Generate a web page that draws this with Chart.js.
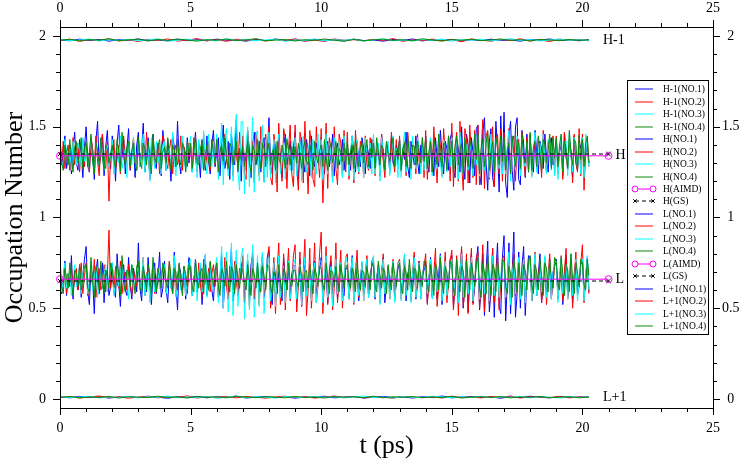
<!DOCTYPE html>
<html>
<head>
<meta charset="utf-8">
<script src="https://cdn.jsdelivr.net/npm/chart.js@4.4.0/dist/chart.umd.min.js"></script>
<style>
  html, body { margin: 0; padding: 0; background: #fff; }
</style>
</head>
<body>
<canvas id="occChart" width="746" height="463"></canvas>
<script>
// sampling of the trajectories (ps)
const dtFine = 0.0625;  // H and L orbitals
const dtCoarse = 0.375; // H-1 and L+1 orbitals

// ---- H-1 (values near 2) ----
const H1_NO1 = [
  1.979,1.974,1.983,1.976,1.981,1.972,1.980,1.977,1.984,1.975,1.979,
  1.973,1.982,1.976,1.980,1.974,1.983,1.977,1.978,1.972,1.981,1.975,
  1.984,1.976,1.979,1.973,1.982,1.977,1.980,1.974,1.983,1.975,1.978,
  1.972,1.981,1.976,1.984,1.974,1.979,1.977,1.982,1.973,1.980,1.975,
  1.983,1.976,1.978,1.972,1.981,1.977,1.984,1.975,1.979,1.974,1.980];
const H1_NO2 = [
  1.976,1.983,1.971,1.980,1.975,1.985,1.973,1.979,1.970,1.982,1.977,
  1.984,1.972,1.978,1.986,1.974,1.980,1.971,1.983,1.976,1.979,1.973,
  1.981,1.975,1.985,1.972,1.978,1.970,1.984,1.977,1.980,1.973,1.982,
  1.976,1.986,1.971,1.979,1.974,1.983,1.975,1.980,1.969,1.984,1.977,
  1.972,1.981,1.976,1.985,1.973,1.979,1.970,1.983,1.975,1.980,1.974];
const H1_NO3 = [
  1.981,1.975,1.978,1.984,1.973,1.980,1.976,1.982,1.974,1.979,1.985,
  1.972,1.977,1.983,1.975,1.980,1.973,1.986,1.976,1.981,1.974,1.978,
  1.983,1.971,1.979,1.976,1.984,1.974,1.980,1.977,1.982,1.972,1.979,
  1.985,1.975,1.978,1.973,1.981,1.976,1.984,1.972,1.980,1.977,1.983,
  1.974,1.979,1.986,1.975,1.981,1.973,1.978,1.984,1.976,1.980,1.975];
const H1_NO4 = [
  1.977,1.982,1.974,1.980,1.978,1.985,1.975,1.979,1.983,1.973,1.981,
  1.976,1.984,1.978,1.972,1.980,1.977,1.983,1.975,1.979,1.986,1.974,
  1.978,1.981,1.973,1.980,1.976,1.984,1.977,1.971,1.982,1.975,1.979,
  1.983,1.976,1.980,1.974,1.985,1.978,1.972,1.981,1.977,1.983,1.975,
  1.979,1.984,1.976,1.980,1.973,1.982,1.978,1.975,1.981,1.977,1.979];

// ---- H (HOMO), one row per ps ----
const H_NO1 = [
  1.41,1.29,1.36,1.45,1.27,1.33,1.40,1.24,1.38,1.47,1.30,1.26,1.43,1.35,1.22,1.39,
  1.50,1.31,1.25,1.44,1.37,1.21,1.42,1.53,1.28,1.34,1.46,1.23,1.39,1.48,1.30,1.27,
  1.45,1.36,1.20,1.41,1.51,1.29,1.33,1.43,1.24,1.38,1.49,1.26,1.35,1.42,1.22,1.40,
  1.47,1.28,1.37,1.52,1.25,1.32,1.44,1.21,1.39,1.46,1.30,1.27,1.41,1.36,1.23,1.48,
  1.38,1.26,1.43,1.33,1.20,1.45,1.39,1.28,1.53,1.31,1.24,1.42,1.36,1.27,1.44,1.30,
  1.40,1.25,1.37,1.47,1.29,1.34,1.22,1.43,1.38,1.26,1.45,1.31,1.24,1.41,1.48,1.28,
  1.36,1.44,1.23,1.39,1.51,1.27,1.33,1.42,1.21,1.46,1.35,1.29,1.54,1.25,1.38,1.20,
  1.43,1.31,1.26,1.45,1.37,1.22,1.40,1.47,1.29,1.34,1.42,1.25,1.39,1.44,1.28,1.33,
  1.55,1.30,1.24,1.41,1.36,1.27,1.44,1.32,1.22,1.39,1.46,1.29,1.35,1.42,1.26,1.38,
  1.47,1.28,1.21,1.40,1.44,1.31,1.25,1.43,1.37,1.23,1.45,1.33,1.28,1.41,1.36,1.27,
  1.44,1.30,1.24,1.39,1.42,1.28,1.35,1.46,1.23,1.38,1.41,1.29,1.33,1.43,1.26,1.37,
  1.40,1.32,1.26,1.45,1.36,1.25,1.42,1.31,1.28,1.44,1.38,1.24,1.40,1.35,1.27,1.43,
  1.42,1.29,1.35,1.39,1.23,1.46,1.33,1.27,1.41,1.37,1.25,1.44,1.30,1.28,1.40,1.36,
  1.43,1.26,1.38,1.32,1.47,1.28,1.22,1.42,1.36,1.29,1.45,1.31,1.24,1.40,1.37,1.27,
  1.45,1.30,1.25,1.41,1.36,1.23,1.44,1.33,1.28,1.48,1.35,1.24,1.42,1.38,1.26,1.43,
  1.47,1.27,1.22,1.43,1.38,1.25,1.50,1.31,1.21,1.46,1.40,1.19,1.44,1.36,1.23,1.49,
  1.51,1.24,1.18,1.47,1.55,1.30,1.15,1.42,1.49,1.22,1.17,1.53,1.38,1.14,1.56,1.27,
  1.58,1.19,1.11,1.45,1.53,1.26,1.15,1.50,1.55,1.21,1.18,1.48,1.41,1.22,1.46,1.25,
  1.45,1.31,1.25,1.48,1.36,1.24,1.42,1.38,1.27,1.46,1.33,1.25,1.41,1.44,1.29,1.35,
  1.43,1.28,1.36,1.40,1.23,1.47,1.34,1.28,1.41,1.37,1.22,1.45,1.31,1.26,1.42,1.38,
  1.44,1.27,1.35,1.39,1.30];
const H_NO2 = [
  1.38,1.30,1.42,1.27,1.35,1.40,1.26,1.33,1.44,1.29,1.37,1.41,1.25,1.36,1.43,1.28,
  1.41,1.33,1.25,1.44,1.38,1.28,1.45,1.31,1.23,1.39,1.46,1.30,1.27,1.42,1.09,1.35,
  1.37,1.43,1.26,1.32,1.40,1.24,1.38,1.45,1.29,1.34,1.41,1.27,1.36,1.44,1.30,1.26,
  1.44,1.29,1.35,1.41,1.26,1.47,1.33,1.25,1.39,1.43,1.28,1.36,1.40,1.24,1.38,1.45,
  1.42,1.31,1.27,1.38,1.43,1.24,1.36,1.40,1.29,1.33,1.45,1.26,1.39,1.35,1.28,1.41,
  1.39,1.27,1.44,1.33,1.25,1.41,1.37,1.30,1.46,1.28,1.34,1.42,1.26,1.38,1.43,1.29,
  1.43,1.25,1.36,1.40,1.29,1.46,1.32,1.26,1.41,1.38,1.23,1.44,1.35,1.28,1.47,1.31,
  1.45,1.24,1.21,1.48,1.37,1.26,1.42,1.19,1.47,1.33,1.23,1.50,1.38,1.20,1.46,1.29,
  1.50,1.22,1.18,1.46,1.39,1.14,1.52,1.31,1.20,1.49,1.44,1.16,1.38,1.51,1.24,1.17,
  1.51,1.27,1.15,1.47,1.42,1.19,1.53,1.33,1.13,1.48,1.40,1.21,1.17,1.50,1.36,1.22,
  1.49,1.08,1.30,1.52,1.16,1.44,1.38,1.20,1.50,1.27,1.18,1.46,1.41,1.23,1.48,1.25,
  1.47,1.21,1.36,1.43,1.19,1.48,1.32,1.24,1.42,1.38,1.22,1.45,1.30,1.26,1.44,1.35,
  1.44,1.23,1.38,1.40,1.26,1.46,1.31,1.22,1.41,1.36,1.27,1.47,1.33,1.25,1.43,1.29,
  1.45,1.25,1.37,1.42,1.23,1.47,1.34,1.26,1.40,1.39,1.24,1.46,1.31,1.28,1.44,1.22,
  1.48,1.21,1.35,1.44,1.25,1.50,1.32,1.19,1.46,1.40,1.23,1.49,1.36,1.27,1.45,1.20,
  1.52,1.17,1.39,1.47,1.20,1.53,1.30,1.15,1.49,1.43,1.19,1.51,1.34,1.22,1.48,1.18,
  1.51,1.18,1.37,1.54,1.16,1.45,1.48,1.21,1.33,1.50,1.17,1.42,1.46,1.24,1.49,1.20,
  1.47,1.22,1.36,1.49,1.24,1.41,1.45,1.20,1.38,1.43,1.26,1.47,1.32,1.23,1.44,1.27,
  1.46,1.23,1.35,1.41,1.27,1.44,1.38,1.22,1.48,1.33,1.25,1.42,1.39,1.28,1.45,1.24,
  1.45,1.24,1.37,1.42,1.21,1.47,1.33,1.26,1.43,1.36,1.19,1.46,1.30,1.25,1.49,1.23,
  1.46,1.15,1.36,1.44,1.28];
const H_NO3 = [
  1.40,1.31,1.27,1.43,1.36,1.30,1.38,1.26,1.42,1.34,1.29,1.41,1.37,1.28,1.44,1.31,
  1.39,1.27,1.35,1.44,1.30,1.25,1.41,1.36,1.29,1.43,1.33,1.26,1.37,1.40,1.28,1.34,
  1.43,1.24,1.36,1.40,1.30,1.45,1.27,1.33,1.38,1.22,1.41,1.35,1.29,1.44,1.31,1.26,
  1.41,1.28,1.37,1.46,1.25,1.33,1.39,1.20,1.44,1.36,1.27,1.42,1.30,1.38,1.24,1.40,
  1.42,1.26,1.35,1.38,1.29,1.47,1.31,1.23,1.40,1.36,1.28,1.45,1.33,1.26,1.41,1.37,
  1.45,1.25,1.34,1.41,1.22,1.43,1.37,1.27,1.48,1.32,1.24,1.46,1.35,1.28,1.42,1.30,
  1.46,1.21,1.38,1.52,1.18,1.43,1.49,1.23,1.35,1.50,1.20,1.44,1.57,1.25,1.15,1.53,
  1.53,1.13,1.41,1.50,1.17,1.36,1.55,1.14,1.45,1.48,1.20,1.38,1.51,1.19,1.43,1.22,
  1.47,1.22,1.35,1.43,1.19,1.40,1.46,1.24,1.31,1.41,1.21,1.44,1.36,1.26,1.42,1.23,
  1.44,1.23,1.38,1.42,1.20,1.45,1.33,1.25,1.40,1.37,1.22,1.43,1.35,1.24,1.46,1.27,
  1.43,1.21,1.36,1.46,1.24,1.41,1.34,1.19,1.44,1.38,1.26,1.42,1.31,1.22,1.45,1.29,
  1.42,1.23,1.37,1.45,1.21,1.40,1.43,1.25,1.33,1.39,1.22,1.44,1.36,1.27,1.41,1.24,
  1.46,1.24,1.35,1.41,1.20,1.44,1.37,1.26,1.39,1.42,1.23,1.34,1.45,1.28,1.38,1.22,
  1.43,1.22,1.38,1.47,1.25,1.36,1.42,1.21,1.45,1.33,1.27,1.44,1.39,1.24,1.41,1.26,
  1.40,1.26,1.35,1.44,1.23,1.42,1.37,1.27,1.46,1.31,1.22,1.43,1.38,1.25,1.45,1.28,
  1.44,1.25,1.37,1.42,1.21,1.47,1.34,1.24,1.43,1.39,1.26,1.41,1.36,1.23,1.45,1.29,
  1.45,1.23,1.36,1.41,1.26,1.44,1.38,1.22,1.46,1.33,1.25,1.42,1.40,1.27,1.43,1.24,
  1.42,1.24,1.39,1.48,1.20,1.43,1.35,1.26,1.45,1.37,1.23,1.44,1.31,1.28,1.41,1.25,
  1.44,1.22,1.38,1.47,1.25,1.36,1.41,1.27,1.46,1.33,1.24,1.43,1.39,1.26,1.42,1.23,
  1.43,1.21,1.37,1.45,1.26,1.40,1.42,1.23,1.47,1.34,1.25,1.44,1.38,1.27,1.41,1.24,
  1.44,1.22,1.46,1.35,1.28];
const H_NO4 = [
  1.45,1.30,1.26,1.40,1.36,1.29,1.43,1.33,1.25,1.39,1.42,1.30,1.35,1.44,1.27,1.38,
  1.42,1.28,1.36,1.46,1.31,1.24,1.41,1.37,1.29,1.44,1.33,1.26,1.40,1.38,1.30,1.35,
  1.40,1.32,1.27,1.43,1.36,1.25,1.47,1.34,1.29,1.39,1.42,1.28,1.37,1.41,1.30,1.26,
  1.44,1.31,1.27,1.41,1.38,1.29,1.42,1.35,1.24,1.46,1.33,1.30,1.39,1.43,1.27,1.36,
  1.39,1.30,1.44,1.34,1.26,1.40,1.37,1.28,1.43,1.32,1.29,1.41,1.38,1.25,1.42,1.35,
  1.41,1.27,1.36,1.45,1.30,1.29,1.38,1.42,1.26,1.34,1.40,1.31,1.28,1.43,1.36,1.30,
  1.43,1.25,1.37,1.40,1.31,1.44,1.33,1.27,1.41,1.39,1.29,1.36,1.42,1.26,1.38,1.32,
  1.39,1.28,1.35,1.42,1.30,1.25,1.40,1.37,1.29,1.43,1.34,1.27,1.41,1.38,1.31,1.36,
  1.41,1.29,1.36,1.38,1.26,1.42,1.33,1.30,1.40,1.35,1.27,1.43,1.37,1.29,1.39,1.32,
  1.39,1.30,1.41,1.35,1.27,1.38,1.42,1.31,1.29,1.40,1.36,1.26,1.42,1.34,1.30,1.37,
  1.40,1.28,1.43,1.33,1.26,1.39,1.41,1.30,1.35,1.42,1.27,1.38,1.36,1.31,1.41,1.29,
  1.42,1.29,1.37,1.40,1.27,1.43,1.34,1.28,1.39,1.41,1.30,1.36,1.43,1.28,1.38,1.33,
  1.41,1.27,1.44,1.36,1.29,1.40,1.38,1.26,1.42,1.35,1.31,1.39,1.44,1.28,1.37,1.32,
  1.43,1.26,1.38,1.41,1.28,1.45,1.34,1.27,1.40,1.39,1.29,1.42,1.36,1.30,1.44,1.31,
  1.44,1.27,1.36,1.42,1.25,1.43,1.38,1.29,1.46,1.33,1.28,1.41,1.40,1.26,1.45,1.34,
  1.42,1.25,1.39,1.45,1.29,1.37,1.41,1.24,1.44,1.35,1.28,1.43,1.38,1.27,1.46,1.32,
  1.46,1.24,1.38,1.43,1.28,1.41,1.47,1.26,1.36,1.42,1.25,1.44,1.39,1.29,1.45,1.31,
  1.44,1.26,1.37,1.41,1.24,1.45,1.35,1.28,1.43,1.40,1.27,1.46,1.33,1.30,1.42,1.25,
  1.47,1.26,1.39,1.42,1.28,1.45,1.36,1.25,1.43,1.41,1.30,1.37,1.46,1.27,1.44,1.33,
  1.44,1.28,1.40,1.46,1.25,1.42,1.38,1.27,1.48,1.35,1.29,1.43,1.41,1.26,1.45,1.32,
  1.43,1.28,1.41,1.45,1.30];

// ---- L (LUMO), one row per ps ----
const L_NO1 = [
  0.72,0.58,0.65,0.76,0.57,0.69,0.62,0.79,0.55,0.71,0.64,0.60,0.74,0.56,0.68,0.77,
  0.84,0.59,0.52,0.73,0.66,0.47,0.70,0.77,0.58,0.63,0.75,0.53,0.69,0.71,0.57,0.62,
  0.75,0.60,0.56,0.80,0.64,0.51,0.69,0.74,0.60,0.57,0.78,0.63,0.55,0.72,0.67,0.59,
  0.86,0.61,0.54,0.72,0.68,0.59,0.78,0.63,0.52,0.70,0.75,0.58,0.66,0.81,0.56,0.61,
  0.76,0.60,0.53,0.71,0.65,0.58,0.81,0.62,0.49,0.74,0.69,0.60,0.73,0.55,0.67,0.78,
  0.70,0.57,0.64,0.77,0.59,0.68,0.73,0.52,0.66,0.79,0.57,0.62,0.75,0.60,0.54,0.71,
  0.74,0.56,0.67,0.80,0.50,0.65,0.72,0.58,0.69,0.83,0.54,0.61,0.76,0.57,0.64,0.73,
  0.77,0.53,0.66,0.71,0.57,0.74,0.79,0.55,0.63,0.73,0.59,0.68,0.75,0.56,0.62,0.78,
  0.82,0.57,0.52,0.75,0.68,0.58,0.70,0.63,0.54,0.78,0.66,0.60,0.73,0.57,0.69,0.74,
  0.73,0.55,0.64,0.77,0.51,0.68,0.74,0.59,0.62,0.72,0.56,0.70,0.76,0.58,0.65,0.71,
  0.78,0.57,0.63,0.71,0.53,0.69,0.76,0.58,0.65,0.73,0.55,0.67,0.74,0.60,0.57,0.72,
  0.72,0.56,0.68,0.79,0.59,0.64,0.70,0.54,0.66,0.75,0.58,0.62,0.77,0.56,0.69,0.73,
  0.76,0.55,0.67,0.73,0.57,0.70,0.78,0.53,0.64,0.71,0.59,0.68,0.75,0.57,0.63,0.72,
  0.74,0.58,0.65,0.77,0.54,0.69,0.72,0.56,0.66,0.79,0.55,0.63,0.76,0.59,0.68,0.71,
  0.75,0.53,0.66,0.78,0.57,0.64,0.73,0.55,0.69,0.80,0.52,0.67,0.74,0.58,0.63,0.77,
  0.79,0.51,0.65,0.74,0.55,0.70,0.82,0.50,0.64,0.77,0.48,0.68,0.80,0.53,0.61,0.76,
  0.84,0.49,0.62,0.80,0.46,0.71,0.87,0.48,0.59,0.83,0.45,0.69,0.86,0.51,0.47,0.78,
  0.90,0.43,0.64,0.86,0.47,0.70,0.92,0.45,0.58,0.81,0.50,0.73,0.84,0.46,0.66,0.79,
  0.78,0.54,0.63,0.76,0.57,0.69,0.80,0.53,0.66,0.74,0.58,0.62,0.77,0.55,0.70,0.73,
  0.77,0.55,0.67,0.73,0.52,0.68,0.79,0.57,0.64,0.75,0.53,0.69,0.76,0.58,0.62,0.74,
  0.76,0.56,0.67,0.78,0.59];
const L_NO2 = [
  0.71,0.61,0.66,0.74,0.58,0.69,0.63,0.73,0.59,0.67,0.72,0.60,0.65,0.75,0.58,0.68,
  0.75,0.57,0.64,0.70,0.62,0.77,0.56,0.66,0.72,0.60,0.63,0.74,0.59,0.68,0.93,0.61,
  0.68,0.59,0.73,0.64,0.61,0.76,0.58,0.67,0.70,0.60,0.74,0.63,0.57,0.71,0.66,0.62,
  0.74,0.60,0.65,0.78,0.57,0.69,0.71,0.62,0.67,0.75,0.58,0.64,0.72,0.61,0.68,0.73,
  0.72,0.59,0.66,0.76,0.61,0.64,0.70,0.57,0.68,0.74,0.62,0.60,0.73,0.65,0.58,0.71,
  0.73,0.58,0.67,0.70,0.60,0.75,0.63,0.56,0.77,0.66,0.61,0.72,0.59,0.69,0.74,0.62,
  0.75,0.57,0.65,0.71,0.59,0.78,0.62,0.55,0.73,0.68,0.60,0.76,0.64,0.58,0.72,0.66,
  0.79,0.54,0.63,0.76,0.51,0.70,0.81,0.56,0.64,0.74,0.52,0.69,0.80,0.58,0.61,0.77,
  0.84,0.50,0.62,0.78,0.47,0.71,0.86,0.52,0.59,0.80,0.49,0.68,0.83,0.54,0.64,0.79,
  0.85,0.48,0.63,0.81,0.51,0.70,0.88,0.46,0.60,0.83,0.50,0.67,0.86,0.53,0.62,0.80,
  0.92,0.47,0.65,0.84,0.52,0.71,0.79,0.49,0.61,0.86,0.53,0.68,0.82,0.50,0.66,0.78,
  0.80,0.55,0.64,0.77,0.52,0.70,0.82,0.56,0.61,0.75,0.54,0.69,0.79,0.57,0.63,0.76,
  0.78,0.57,0.66,0.74,0.53,0.69,0.80,0.58,0.62,0.73,0.55,0.68,0.77,0.54,0.65,0.75,
  0.77,0.55,0.67,0.79,0.58,0.63,0.74,0.54,0.70,0.81,0.57,0.64,0.76,0.55,0.69,0.73,
  0.80,0.52,0.65,0.77,0.56,0.69,0.83,0.51,0.62,0.78,0.55,0.67,0.81,0.53,0.64,0.76,
  0.82,0.49,0.63,0.79,0.46,0.70,0.84,0.51,0.60,0.80,0.47,0.68,0.83,0.52,0.65,0.78,
  0.81,0.50,0.66,0.85,0.48,0.69,0.78,0.52,0.62,0.83,0.53,0.67,0.80,0.49,0.64,0.77,
  0.79,0.55,0.64,0.76,0.53,0.70,0.80,0.57,0.61,0.74,0.56,0.68,0.78,0.54,0.66,0.75,
  0.77,0.54,0.65,0.81,0.57,0.68,0.75,0.53,0.63,0.78,0.52,0.69,0.80,0.56,0.62,0.74,
  0.76,0.56,0.66,0.79,0.54,0.70,0.83,0.55,0.63,0.77,0.50,0.67,0.81,0.57,0.64,0.75,
  0.85,0.53,0.68,0.76,0.58];
const L_NO3 = [
  0.72,0.59,0.66,0.75,0.61,0.68,0.70,0.57,0.64,0.74,0.62,0.67,0.71,0.58,0.69,0.73,
  0.71,0.58,0.65,0.76,0.60,0.67,0.73,0.56,0.63,0.70,0.61,0.68,0.74,0.59,0.66,0.72,
  0.75,0.57,0.64,0.72,0.62,0.69,0.77,0.59,0.63,0.71,0.55,0.67,0.74,0.60,0.65,0.70,
  0.73,0.60,0.66,0.78,0.57,0.68,0.70,0.53,0.65,0.76,0.59,0.62,0.72,0.61,0.69,0.74,
  0.74,0.58,0.65,0.71,0.61,0.67,0.79,0.56,0.63,0.73,0.60,0.68,0.72,0.57,0.66,0.75,
  0.77,0.57,0.64,0.73,0.54,0.69,0.75,0.59,0.62,0.80,0.56,0.67,0.74,0.60,0.65,0.71,
  0.78,0.53,0.66,0.84,0.50,0.70,0.81,0.48,0.63,0.86,0.46,0.69,0.82,0.51,0.64,0.79,
  0.83,0.44,0.68,0.80,0.49,0.65,0.85,0.45,0.62,0.79,0.51,0.70,0.81,0.47,0.66,0.77,
  0.78,0.54,0.65,0.75,0.51,0.69,0.79,0.56,0.62,0.73,0.53,0.67,0.76,0.55,0.64,0.74,
  0.77,0.55,0.66,0.74,0.52,0.68,0.78,0.57,0.63,0.72,0.54,0.70,0.75,0.53,0.65,0.76,
  0.76,0.53,0.67,0.79,0.56,0.64,0.73,0.51,0.69,0.77,0.58,0.62,0.75,0.54,0.66,0.78,
  0.75,0.55,0.68,0.78,0.53,0.65,0.72,0.57,0.63,0.76,0.54,0.69,0.77,0.56,0.64,0.74,
  0.79,0.56,0.66,0.73,0.52,0.70,0.77,0.58,0.62,0.71,0.55,0.68,0.76,0.53,0.65,0.75,
  0.76,0.54,0.67,0.80,0.57,0.64,0.74,0.53,0.69,0.78,0.56,0.63,0.75,0.55,0.68,0.73,
  0.72,0.58,0.66,0.77,0.55,0.69,0.73,0.59,0.63,0.79,0.54,0.67,0.76,0.57,0.65,0.74,
  0.77,0.57,0.65,0.75,0.53,0.70,0.80,0.56,0.62,0.76,0.58,0.68,0.78,0.54,0.66,0.73,
  0.78,0.55,0.67,0.74,0.58,0.64,0.77,0.54,0.69,0.79,0.57,0.63,0.75,0.56,0.68,0.76,
  0.75,0.56,0.66,0.81,0.52,0.69,0.76,0.58,0.64,0.78,0.55,0.67,0.77,0.53,0.65,0.74,
  0.77,0.54,0.68,0.80,0.57,0.63,0.73,0.59,0.66,0.79,0.56,0.64,0.76,0.55,0.69,0.75,
  0.76,0.53,0.67,0.78,0.58,0.65,0.74,0.55,0.69,0.80,0.57,0.62,0.77,0.54,0.66,0.75,
  0.77,0.54,0.68,0.79,0.60];
const L_NO4 = [
  0.77,0.62,0.58,0.72,0.67,0.61,0.75,0.64,0.57,0.71,0.69,0.62,0.74,0.60,0.66,0.73,
  0.74,0.61,0.59,0.78,0.65,0.56,0.73,0.69,0.60,0.76,0.63,0.58,0.71,0.67,0.61,0.75,
  0.72,0.63,0.61,0.75,0.68,0.57,0.79,0.64,0.59,0.71,0.70,0.62,0.74,0.66,0.58,0.73,
  0.76,0.62,0.58,0.73,0.66,0.60,0.74,0.69,0.56,0.78,0.65,0.59,0.72,0.68,0.61,0.75,
  0.71,0.64,0.61,0.76,0.67,0.58,0.72,0.70,0.60,0.75,0.63,0.57,0.73,0.69,0.62,0.74,
  0.73,0.61,0.59,0.77,0.66,0.61,0.70,0.72,0.58,0.74,0.65,0.60,0.76,0.68,0.62,0.71,
  0.75,0.63,0.57,0.72,0.69,0.62,0.76,0.65,0.59,0.73,0.70,0.58,0.74,0.67,0.61,0.72,
  0.71,0.64,0.60,0.74,0.66,0.57,0.72,0.69,0.61,0.75,0.63,0.59,0.73,0.68,0.60,0.74,
  0.73,0.62,0.58,0.70,0.67,0.61,0.74,0.65,0.59,0.72,0.69,0.60,0.75,0.64,0.62,0.71,
  0.71,0.65,0.62,0.73,0.68,0.59,0.70,0.71,0.61,0.74,0.66,0.58,0.72,0.69,0.62,0.73,
  0.72,0.63,0.60,0.75,0.67,0.58,0.71,0.70,0.62,0.73,0.65,0.59,0.74,0.68,0.61,0.72,
  0.74,0.64,0.61,0.72,0.69,0.59,0.75,0.66,0.60,0.71,0.70,0.62,0.73,0.67,0.60,0.75,
  0.73,0.62,0.59,0.76,0.68,0.61,0.72,0.70,0.58,0.74,0.66,0.60,0.75,0.69,0.62,0.73,
  0.75,0.61,0.58,0.73,0.70,0.60,0.77,0.66,0.59,0.72,0.71,0.61,0.74,0.68,0.62,0.76,
  0.76,0.62,0.59,0.74,0.67,0.57,0.75,0.71,0.60,0.78,0.65,0.58,0.73,0.70,0.61,0.76,
  0.74,0.60,0.57,0.77,0.68,0.59,0.73,0.71,0.56,0.76,0.66,0.60,0.75,0.69,0.62,0.74,
  0.78,0.61,0.56,0.75,0.70,0.58,0.79,0.67,0.57,0.74,0.72,0.59,0.76,0.68,0.61,0.77,
  0.76,0.62,0.58,0.73,0.69,0.56,0.77,0.70,0.59,0.75,0.66,0.57,0.74,0.71,0.60,0.76,
  0.79,0.63,0.58,0.74,0.70,0.60,0.77,0.68,0.57,0.75,0.72,0.59,0.76,0.67,0.61,0.78,
  0.76,0.64,0.60,0.78,0.69,0.57,0.74,0.71,0.59,0.80,0.66,0.58,0.75,0.70,0.62,0.77,
  0.75,0.63,0.60,0.77,0.68];

// ---- L+1 (values near 0) ----
const L1_NO1 = [
  0.011,0.006,0.014,0.008,0.012,0.005,0.010,0.013,0.007,0.015,0.009,
  0.004,0.012,0.008,0.014,0.006,0.011,0.009,0.016,0.005,0.010,0.013,
  0.007,0.012,0.004,0.011,0.008,0.015,0.006,0.010,0.013,0.005,0.009,
  0.014,0.007,0.011,0.005,0.012,0.009,0.016,0.006,0.010,0.013,0.008,
  0.011,0.004,0.012,0.007,0.015,0.009,0.006,0.013,0.008,0.011,0.010];
const L1_NO2 = [
  0.008,0.013,0.005,0.011,0.016,0.007,0.012,0.004,0.010,0.014,0.006,
  0.012,0.009,0.017,0.005,0.011,0.008,0.014,0.006,0.013,0.010,0.004,
  0.011,0.015,0.007,0.012,0.005,0.010,0.016,0.008,0.013,0.006,0.011,
  0.009,0.004,0.014,0.010,0.007,0.012,0.005,0.015,0.009,0.011,0.006,
  0.013,0.008,0.016,0.005,0.012,0.010,0.007,0.014,0.006,0.011,0.009];
const L1_NO3 = [
  0.012,0.007,0.010,0.015,0.005,0.011,0.008,0.014,0.006,0.012,0.009,
  0.016,0.006,0.011,0.008,0.013,0.004,0.010,0.015,0.007,0.012,0.009,
  0.005,0.013,0.010,0.007,0.014,0.009,0.012,0.006,0.011,0.016,0.008,
  0.010,0.005,0.013,0.009,0.007,0.015,0.011,0.006,0.012,0.008,0.014,
  0.007,0.011,0.009,0.014,0.006,0.012,0.010,0.005,0.013,0.008,0.011];
const L1_NO4 = [
  0.009,0.013,0.006,0.011,0.008,0.014,0.005,0.012,0.010,0.007,0.015,
  0.008,0.011,0.005,0.013,0.009,0.012,0.006,0.014,0.010,0.007,0.012,
  0.010,0.006,0.014,0.008,0.011,0.005,0.013,0.009,0.012,0.007,0.015,
  0.006,0.012,0.009,0.013,0.007,0.011,0.008,0.014,0.005,0.010,0.012,
  0.008,0.013,0.006,0.011,0.009,0.014,0.007,0.010,0.012,0.006,0.011];

// ---- reference levels (AIMD average and ground state) ----
const refTime = [0, 21];
const H_AIMD = [1.34, 1.34];
const H_GS = [1.35, 1.35];
const L_AIMD = [0.66, 0.66];
const L_GS = [0.65, 0.65];

// axis ticks and level names
const xTicks = [0, 5, 10, 15, 20, 25];
const yTicks = [0, 0.5, 1, 1.5, 2];
const levelNames = ['H-1', 'H', 'L', 'L+1'];

const serif = '"Liberation Serif", "Times New Roman", serif';
const runColors = ['#0000ff', '#ff0000', '#00ffff', '#0a8a0a'];

function pts(values, dt) {
  return values.map((v, i) => ({ x: i * dt, y: v }));
}
function run(label, values, dt, n) {
  return {
    label: label,
    data: pts(values, dt),
    borderColor: runColors[n],
    borderWidth: 1,
    pointRadius: 0,
    tension: 0,
    fill: false
  };
}
function ref(label, values, kind) {
  const aimd = kind === 'AIMD';
  return {
    label: label,
    data: refTime.map((t, i) => ({ x: t, y: values[i] })),
    borderColor: aimd ? '#ff00ff' : '#000000',
    borderWidth: 1,
    borderDash: aimd ? [] : [4, 3],
    pointStyle: aimd ? 'circle' : 'crossRot',
    pointRadius: aimd ? 3.5 : 3,
    pointBorderColor: aimd ? '#ff00ff' : '#000000',
    pointBackgroundColor: 'rgba(0,0,0,0)',
    pointBorderWidth: 1,
    clip: false,
    isRef: true
  };
}

const datasets = [
  run('H-1(NO.1)', H1_NO1, dtCoarse, 0),
  run('H-1(NO.2)', H1_NO2, dtCoarse, 1),
  run('H-1(NO.3)', H1_NO3, dtCoarse, 2),
  run('H-1(NO.4)', H1_NO4, dtCoarse, 3),
  run('H(NO.1)', H_NO1, dtFine, 0),
  run('H(NO.2)', H_NO2, dtFine, 1),
  run('H(NO.3)', H_NO3, dtFine, 2),
  run('H(NO.4)', H_NO4, dtFine, 3),
  ref('H(AIMD)', H_AIMD, 'AIMD'),
  ref('H(GS)', H_GS, 'GS'),
  run('L(NO.1)', L_NO1, dtFine, 0),
  run('L(NO.2)', L_NO2, dtFine, 1),
  run('L(NO.3)', L_NO3, dtFine, 2),
  run('L(NO.4)', L_NO4, dtFine, 3),
  ref('L(AIMD)', L_AIMD, 'AIMD'),
  ref('L(GS)', L_GS, 'GS'),
  run('L+1(NO.1)', L1_NO1, dtCoarse, 0),
  run('L+1(NO.2)', L1_NO2, dtCoarse, 1),
  run('L+1(NO.3)', L1_NO3, dtCoarse, 2),
  run('L+1(NO.4)', L1_NO4, dtCoarse, 3)
];
// later runs on top (like the original plot), reference lines above all
datasets.forEach((ds, i) => { ds.order = ds.isRef ? -1 : datasets.length - i; });

// frame box and outward tick marks (major + minor)
const frameTicks = {
  id: 'frameTicks',
  afterDraw(chart) {
    const { ctx, chartArea: a, scales } = chart;
    ctx.save();
    ctx.strokeStyle = '#000';
    ctx.lineWidth = 1;
    ctx.strokeRect(a.left + 0.5, a.top + 0.5, a.right - a.left, a.bottom - a.top);
    ctx.beginPath();
    for (let k = 0; k <= 25; k++) {
      const px = Math.round(scales.x.getPixelForValue(k)) + 0.5;
      const len = k % 5 === 0 ? 7 : 4;
      ctx.moveTo(px, a.bottom); ctx.lineTo(px, a.bottom + len);
      ctx.moveTo(px, a.top); ctx.lineTo(px, a.top - len);
    }
    for (let k = 0; k <= 20; k++) {
      const py = Math.round(scales.y.getPixelForValue(k / 10)) + 0.5;
      const len = k % 5 === 0 ? 7 : 4;
      ctx.moveTo(a.left, py); ctx.lineTo(a.left - len, py);
      ctx.moveTo(a.right, py); ctx.lineTo(a.right + len, py);
    }
    ctx.stroke();
    ctx.restore();
  }
};

// orbital names at the right end of each group of lines
const levelTags = {
  id: 'levelTags',
  afterDatasetsDraw(chart) {
    const { ctx, scales } = chart;
    ctx.save();
    ctx.font = '14px ' + serif;
    ctx.fillStyle = '#000';
    ctx.textBaseline = 'middle';
    ctx.textAlign = 'left';
    levelNames.forEach(name => {
      const group = chart.data.datasets.filter(d => d.label.startsWith(name + '('));
      const refSet = group.find(d => d.isRef);
      let xEnd = 0;
      group.forEach(d => d.data.forEach(p => { if (p.x > xEnd) xEnd = p.x; }));
      const src = refSet || group[0];
      const yMean = src.data.reduce((s, p) => s + p.y, 0) / src.data.length;
      const gap = refSet ? 7 : 14;
      ctx.fillText(name, scales.x.getPixelForValue(xEnd) + gap, scales.y.getPixelForValue(yMean));
    });
    ctx.restore();
  }
};

// boxed legend inside the plot, like the original
const boxLegend = {
  id: 'boxLegend',
  afterDraw(chart) {
    const { ctx, chartArea: a } = chart;
    const w = 81, h = 254, rowH = 12.46;
    const left = Math.round(a.right - 5 - w), top = Math.round(a.top + 53);
    ctx.save();
    ctx.fillStyle = '#fff';
    ctx.fillRect(left, top, w, h);
    ctx.strokeStyle = '#000';
    ctx.lineWidth = 1;
    ctx.strokeRect(left + 0.5, top + 0.5, w, h);
    ctx.font = '9.5px ' + serif;
    ctx.textBaseline = 'middle';
    ctx.textAlign = 'left';
    chart.data.datasets.forEach((ds, i) => {
      const y = Math.round(top + 9.3 + i * rowH);
      const x0 = left + 8, x1 = left + 26;
      ctx.strokeStyle = ds.borderColor;
      ctx.lineWidth = ds.borderWidth;
      ctx.setLineDash(ds.borderDash || []);
      ctx.beginPath();
      ctx.moveTo(x0, y); ctx.lineTo(x1, y);
      ctx.stroke();
      ctx.setLineDash([]);
      if (ds.pointRadius > 0) {
        ctx.strokeStyle = ds.pointBorderColor;
        ctx.fillStyle = '#fff';
        [x0, x1].forEach(px => {
          Chart.helpers.drawPoint(ctx, { pointStyle: ds.pointStyle, radius: ds.pointRadius - 0.5, borderWidth: 1, rotation: 0 }, px, y);
        });
      }
      ctx.fillStyle = '#000';
      ctx.fillText(ds.label, left + 36, y);
    });
    ctx.restore();
  }
};

const tickFont = { family: serif, size: 14 };
const titleFont = { family: serif, size: 26 };
const noGrid = { display: false, drawTicks: false, tickLength: 0 };

new Chart(document.getElementById('occChart').getContext('2d'), {
  type: 'line',
  data: { datasets: datasets },
  options: {
    responsive: false,
    animation: false,
    events: [],
    layout: { padding: 0 },
    plugins: {
      legend: { display: false },
      tooltip: { enabled: false }
    },
    scales: {
      x: {
        type: 'linear', position: 'bottom', min: 0, max: 25,
        grid: noGrid, border: { display: false },
        afterBuildTicks: s => { s.ticks = xTicks.map(v => ({ value: v })); },
        afterFit: s => { s.height = 55; },
        ticks: { font: tickFont, color: '#000', padding: 12, maxRotation: 0, autoSkip: false, callback: v => String(v) },
        title: { display: true, text: 't (ps)', font: titleFont, color: '#000', padding: { top: 0, bottom: 1 } }
      },
      xTop: {
        type: 'linear', position: 'top', min: 0, max: 25,
        grid: noGrid, border: { display: false },
        afterBuildTicks: s => { s.ticks = xTicks.map(v => ({ value: v })); },
        afterFit: s => { s.height = 27; },
        ticks: { font: tickFont, color: '#000', padding: 10, maxRotation: 0, autoSkip: false, callback: v => String(v) }
      },
      y: {
        type: 'linear', position: 'left', min: -0.05, max: 2.05,
        grid: noGrid, border: { display: false },
        afterBuildTicks: s => { s.ticks = yTicks.map(v => ({ value: v })); },
        afterFit: s => { s.width = 60; },
        ticks: { font: tickFont, color: '#000', padding: 14, crossAlign: 'near', callback: v => String(v) },
        title: { display: true, text: 'Occupation Number', font: titleFont, color: '#000', padding: { top: 0, bottom: 0 } }
      },
      yRight: {
        type: 'linear', position: 'right', min: -0.05, max: 2.05,
        grid: noGrid, border: { display: false },
        afterBuildTicks: s => { s.ticks = yTicks.map(v => ({ value: v })); },
        afterFit: s => { s.width = 33; },
        ticks: { font: tickFont, color: '#000', padding: 9, crossAlign: 'center', callback: v => String(v) }
      }
    }
  },
  plugins: [frameTicks, levelTags, boxLegend]
});
</script>
</body>
</html>
